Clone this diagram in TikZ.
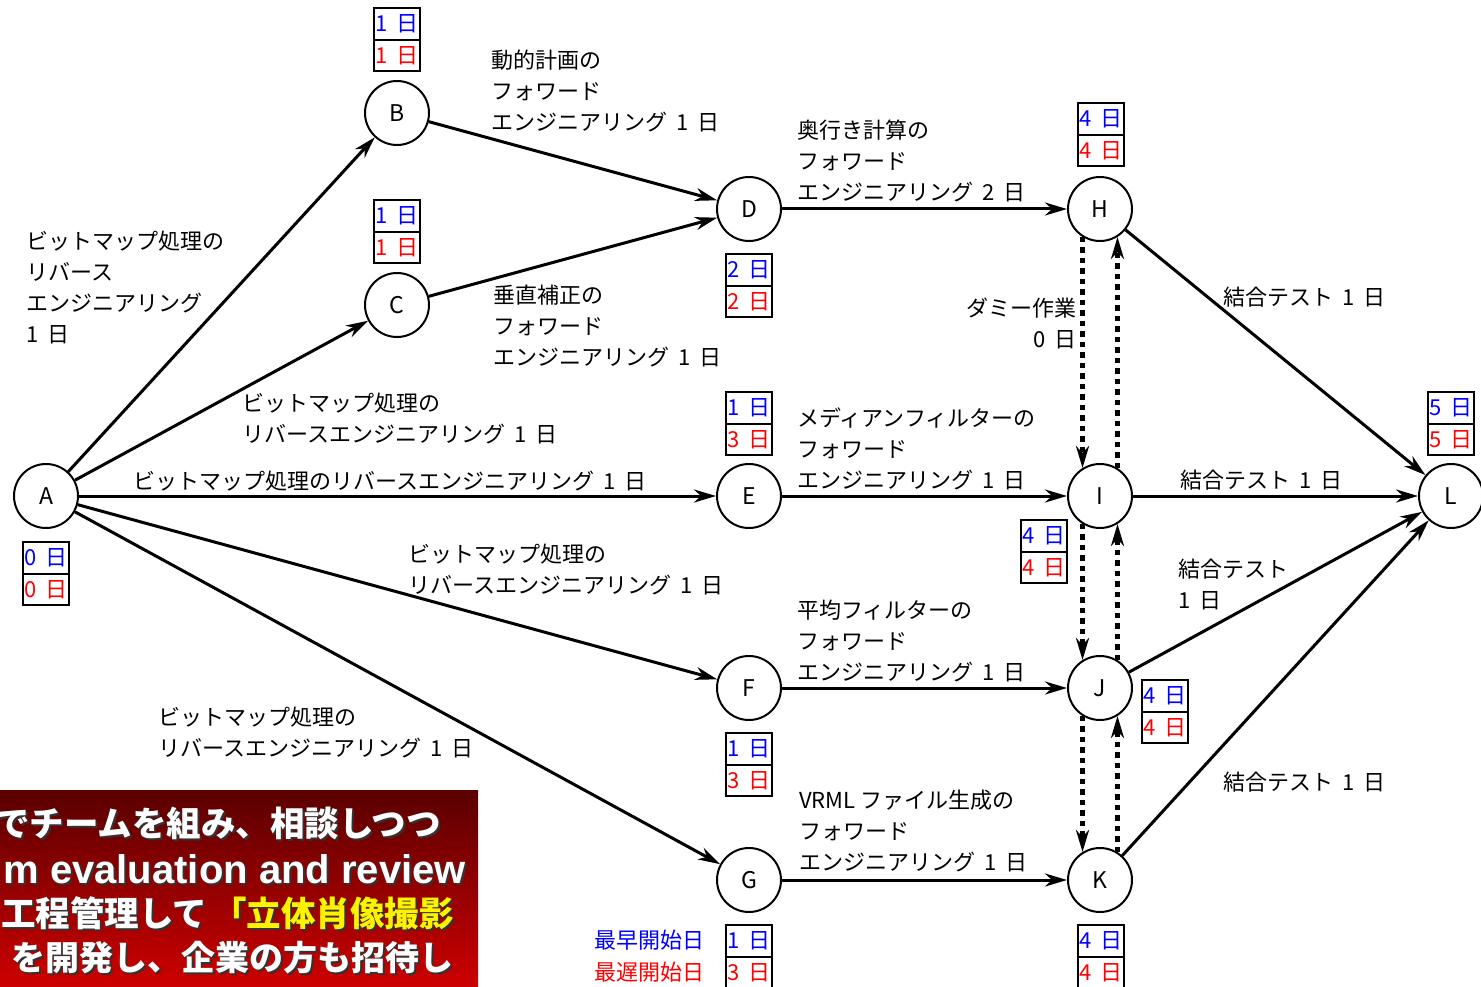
\documentclass[tikz,border=0pt]{standalone}
\usepackage{fontspec}
\setmainfont{Noto Sans CJK JP}
\newfontfamily\arialb{Liberation Sans}
\usetikzlibrary{arrows.meta,positioning}
\newcommand\gap{\hspace{0.42em}}
\begin{document}
\begin{tikzpicture}[x=1pt,y=-1pt,
  every node/.style={font=\fontsize{22}{31}\selectfont},
  ev/.style={circle,draw,line width=2pt,minimum size=64pt,inner sep=0pt,fill=white,font=\fontsize{23}{23}\selectfont},
  edge/.style={line width=3pt,-{Stealth[length=22pt,width=13pt,inset=7pt]}},
  dum/.style={line width=5.5pt,dash pattern=on 5.5pt off 5pt,-{Stealth[length=22pt,width=13pt,inset=7pt]}},
  cellE/.style={draw,line width=2pt,minimum width=46pt,minimum height=31.5pt,inner sep=0pt,outer sep=0pt,text=blue},
  cellL/.style={cellE,text=red},
  lab/.style={align=left,anchor=west,inner sep=0pt},
  rb/.style={anchor=east,inner sep=0pt,text=white,font=\fontsize{34.5}{35}\selectfont\bfseries},
  rbs/.style={rb,text=black!80},
]
\useasboundingbox (0,0) rectangle (1481,987);
% red box
\begin{scope}
\clip (0,790) rectangle (478,987);
\shade[top color={rgb,255:red,90;green,0;blue,0},bottom color={rgb,255:red,205;green,0;blue,0}] (0,790) rectangle (478,987);
\node[rbs] (r1s) at (443,825) {でチームを組み、相談しつつ};
\node[rb] (r1) at (441,823) {でチームを組み、相談しつつ};
\node[rbs,font=\arialb\fontsize{40}{40}\selectfont\bfseries] (r2s) at (468,871) {m evaluation and review};
\node[rb,font=\arialb\fontsize{40}{40}\selectfont\bfseries] (r2) at (466,869) {m evaluation and review};
\node[rbs] (r3s) at (456,915) {工程管理して\hspace{0.15em}「立体肖像撮影};
\node[rb] (r3) at (454,913) {工程管理して\hspace{0.15em}\textcolor{yellow}{「立体肖像撮影}};
\node[rbs,font=\fontsize{34}{35}\selectfont\bfseries] (r4s) at (456,960) {を開発し、企業の方も招待し};
\node[rb,font=\fontsize{34}{35}\selectfont\bfseries] (r4) at (454,958) {を開発し、企業の方も招待し};
\end{scope}
% events
\node[ev] (A) at (46,496) {A};
\node[ev] (B) at (397,113) {B};
\node[ev] (C) at (397,305) {C};
\node[ev] (D) at (749,209) {D};
\node[ev] (E) at (749,496) {E};
\node[ev] (F) at (749,688) {F};
\node[ev] (G) at (749,880) {G};
\node[ev] (H) at (1100,209) {H};
\node[ev] (I) at (1100,496) {I};
\node[ev] (J) at (1100,688) {J};
\node[ev] (K) at (1100,880) {K};
\node[ev] (L) at (1451,496) {L};
% edges
\draw[edge] (A) -- (B);
\draw[edge] (A) -- (C);
\draw[edge] (A) -- (E);
\draw[edge] (A) -- (F);
\draw[edge] (A) -- (G);
\draw[edge] (B) -- (D);
\draw[edge] (C) -- (D);
\draw[edge] (D) -- (H);
\draw[edge] (E) -- (I);
\draw[edge] (F) -- (J);
\draw[edge] (G) -- (K);
\draw[edge] (H) -- (L);
\draw[edge] (I) -- (L);
\draw[edge] (J) -- (L);
\draw[edge] (K) -- (L);
\draw[dum] (H.238) -- (I.122);
\draw[dum] (I.58) -- (H.302);
\draw[dum] (I.238) -- (J.122);
\draw[dum] (J.58) -- (I.302);
\draw[dum] (J.238) -- (K.122);
\draw[dum] (K.58) -- (J.302);
% cells
\node[cellE] (Ae) at (46,558) {0\gap 日}; \node[cellL,below=0pt of Ae] (Al) {0\gap 日};
\node[cellE] (Be) at (397,24) {1\gap 日}; \node[cellL,below=0pt of Be] (Bl) {1\gap 日};
\node[cellE] (Ce) at (397,216) {1\gap 日}; \node[cellL,below=0pt of Ce] (Cl) {1\gap 日};
\node[cellE] (De) at (749,270) {2\gap 日}; \node[cellL,below=0pt of De] (Dl) {2\gap 日};
\node[cellE] (Ee) at (749,408) {1\gap 日}; \node[cellL,below=0pt of Ee] (El) {3\gap 日};
\node[cellE] (Fe) at (749,749) {1\gap 日}; \node[cellL,below=0pt of Fe] (Fl) {3\gap 日};
\node[cellE] (Ge) at (749,941) {1\gap 日}; \node[cellL,below=0pt of Ge] (Gl) {3\gap 日};
\node[cellE] (He) at (1101,119) {4\gap 日}; \node[cellL,below=0pt of He] (Hl) {4\gap 日};
\node[cellE] (Ie) at (1044,536) {4\gap 日}; \node[cellL,below=0pt of Ie] (Il) {4\gap 日};
\node[cellE] (Je) at (1165,696) {4\gap 日}; \node[cellL,below=0pt of Je] (Jl) {4\gap 日};
\node[cellE] (Ke) at (1101,941) {4\gap 日}; \node[cellL,below=0pt of Ke] (Kl) {4\gap 日};
\node[cellE] (Le) at (1451,408) {5\gap 日}; \node[cellL,below=0pt of Le] (Ll) {5\gap 日};
% legend
\node[anchor=east,inner sep=0pt,text=blue] (lg1) at (705,940) {最早開始日};
\node[anchor=east,inner sep=0pt,text=red] (lg2) at (705,972) {最遅開始日};
% labels
\node[lab] (lAB) at (26,287.5) {ビットマップ処理の\\リバース\\エンジニアリング\\1\gap 日};
\node[lab] (lBD) at (491,91) {動的計画の\\フォワード\\エンジニアリング\gap 1\gap 日};
\node[lab] (lCD) at (493,326) {垂直補正の\\フォワード\\エンジニアリング\gap 1\gap 日};
\node[lab] (lAC) at (242,418.5) {ビットマップ処理の\\リバースエンジニアリング\gap 1\gap 日};
\node[lab] (lAE) at (133,481) {ビットマップ処理のリバースエンジニアリング\gap 1\gap 日};
\node[lab] (lAF) at (408,569.5) {ビットマップ処理の\\リバースエンジニアリング\gap 1\gap 日};
\node[lab] (lAG) at (158,733) {ビットマップ処理の\\リバースエンジニアリング\gap 1\gap 日};
\node[lab] (lDH) at (797,161) {奥行き計算の\\フォワード\\エンジニアリング\gap 2\gap 日};
\node[lab] (lEI) at (797,449) {メディアンフィルターの\\フォワード\\エンジニアリング\gap 1\gap 日};
\node[lab] (lFJ) at (797,641) {平均フィルターの\\フォワード\\エンジニアリング\gap 1\gap 日};
\node[lab] (lGK) at (799,831) {VRML ファイル生成の\\フォワード\\エンジニアリング\gap 1\gap 日};
\node[align=right,anchor=east,inner sep=0pt] (ldum) at (1077,323) {ダミー作業\\0\gap 日};
\node[lab] (lHL) at (1223,297) {結合テスト\gap 1\gap 日};
\node[lab] (lIL) at (1180,480) {結合テスト\gap 1\gap 日};
\node[lab] (lJL) at (1178,584.5) {結合テスト\\1\gap 日};
\node[lab] (lKL) at (1223,782) {結合テスト\gap 1\gap 日};
\end{tikzpicture}
\end{document}
